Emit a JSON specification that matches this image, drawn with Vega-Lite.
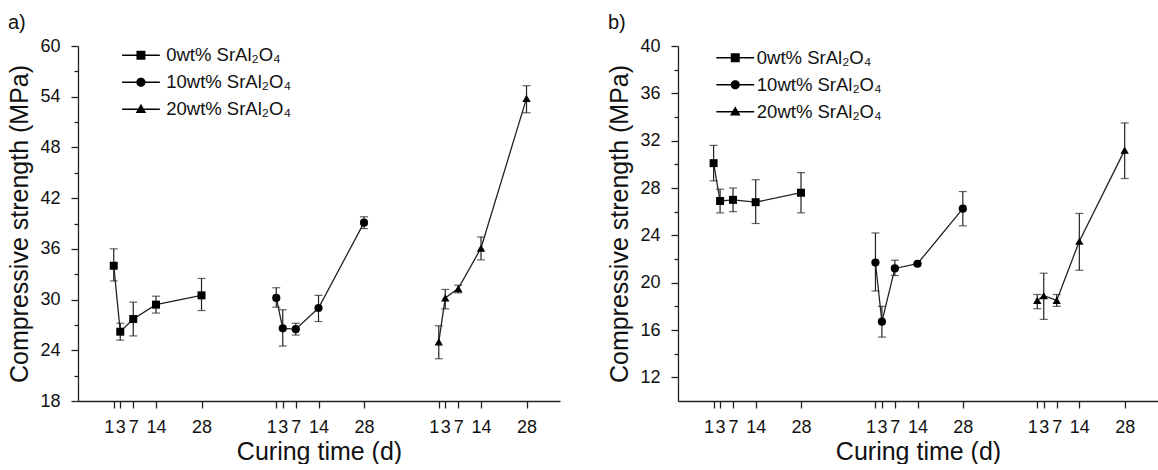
{
  "$schema": "https://vega.github.io/schema/vega-lite/v6.json",
  "padding": {"left": 7, "top": 13, "right": 0, "bottom": 0},
  "background": "white",
  "datasets": {
    "a": [
      {"s": "0wt% SrAl₂O₄", "day": 1, "x": 1, "v": 34.0, "lo": 32.2, "hi": 36.0},
      {"s": "0wt% SrAl₂O₄", "day": 3, "x": 3, "v": 26.2, "lo": 25.2, "hi": 27.2},
      {"s": "0wt% SrAl₂O₄", "day": 7, "x": 7, "v": 27.7, "lo": 25.7, "hi": 29.7},
      {"s": "0wt% SrAl₂O₄", "day": 14, "x": 14, "v": 29.4, "lo": 28.4, "hi": 30.4},
      {"s": "0wt% SrAl₂O₄", "day": 28, "x": 28, "v": 30.5, "lo": 28.7, "hi": 32.5},
      {"s": "10wt% SrAl₂O₄", "day": 1, "x": 51, "v": 30.2, "lo": 29.1, "hi": 31.4},
      {"s": "10wt% SrAl₂O₄", "day": 3, "x": 53, "v": 26.6, "lo": 24.5, "hi": 28.8},
      {"s": "10wt% SrAl₂O₄", "day": 7, "x": 57, "v": 26.5, "lo": 25.8, "hi": 27.2},
      {"s": "10wt% SrAl₂O₄", "day": 14, "x": 64, "v": 29.0, "lo": 27.4, "hi": 30.5},
      {"s": "10wt% SrAl₂O₄", "day": 28, "x": 78, "v": 39.1, "lo": 38.4, "hi": 39.8},
      {"s": "20wt% SrAl₂O₄", "day": 1, "x": 101, "v": 25.0, "lo": 23.0, "hi": 26.9},
      {"s": "20wt% SrAl₂O₄", "day": 3, "x": 103, "v": 30.2, "lo": 28.9, "hi": 31.2},
      {"s": "20wt% SrAl₂O₄", "day": 7, "x": 107, "v": 31.3, "lo": 30.8, "hi": 31.7},
      {"s": "20wt% SrAl₂O₄", "day": 14, "x": 114, "v": 36.1, "lo": 34.7, "hi": 37.4},
      {"s": "20wt% SrAl₂O₄", "day": 28, "x": 128, "v": 53.8, "lo": 52.1, "hi": 55.3}
    ],
    "b": [
      {"s": "0wt% SrAl₂O₄", "day": 1, "x": 1, "v": 30.1, "lo": 28.6, "hi": 31.6},
      {"s": "0wt% SrAl₂O₄", "day": 3, "x": 3, "v": 26.9, "lo": 25.9, "hi": 27.9},
      {"s": "0wt% SrAl₂O₄", "day": 7, "x": 7, "v": 27.0, "lo": 26.0, "hi": 28.0},
      {"s": "0wt% SrAl₂O₄", "day": 14, "x": 14, "v": 26.8, "lo": 25.0, "hi": 28.7},
      {"s": "0wt% SrAl₂O₄", "day": 28, "x": 28, "v": 27.6, "lo": 25.9, "hi": 29.3},
      {"s": "10wt% SrAl₂O₄", "day": 1, "x": 51, "v": 21.7, "lo": 19.3, "hi": 24.2},
      {"s": "10wt% SrAl₂O₄", "day": 3, "x": 53, "v": 16.7, "lo": 15.4, "hi": 18.0},
      {"s": "10wt% SrAl₂O₄", "day": 7, "x": 57, "v": 21.2, "lo": 20.6, "hi": 21.9},
      {"s": "10wt% SrAl₂O₄", "day": 14, "x": 64, "v": 21.6, "lo": 21.6, "hi": 21.6},
      {"s": "10wt% SrAl₂O₄", "day": 28, "x": 78, "v": 26.25, "lo": 24.8, "hi": 27.7},
      {"s": "20wt% SrAl₂O₄", "day": 1, "x": 101, "v": 18.5, "lo": 17.8, "hi": 19.0},
      {"s": "20wt% SrAl₂O₄", "day": 3, "x": 103, "v": 18.9, "lo": 16.9, "hi": 20.8},
      {"s": "20wt% SrAl₂O₄", "day": 7, "x": 107, "v": 18.5, "lo": 18.0, "hi": 19.0},
      {"s": "20wt% SrAl₂O₄", "day": 14, "x": 114, "v": 23.5, "lo": 21.05, "hi": 25.85},
      {"s": "20wt% SrAl₂O₄", "day": 28, "x": 128, "v": 31.2, "lo": 28.8, "hi": 33.5}
    ]
  },
  "spacing": 47,
  "hconcat": [
    {
      "width": 482,
      "height": 355,
      "title": {"text": "a)"},
      "data": {"name": "a"},
      "layer": [
        {
          "mark": {"type": "rule", "color": "#222", "strokeWidth": 1.2},
          "encoding": {
            "x": {"field": "x", "type": "quantitative", "scale": {"domain": [-10, 138.3], "nice": false, "zero": false},
              "axis": {"values": [1,3,7,14,28,51,53,57,64,78,101,103,107,114,128], "tickCount": 40, "labelExpr": "'' + (datum.value > 100 ? datum.value - 100 : datum.value > 50 ? datum.value - 50 : datum.value)", "labelAlign": {"condition": {"test": "datum.value % 50 === 1", "value": "right"}, "value": "center"}, "labelOverlap": false, "labelFlush": false, "tickSize": 7, "labelPadding": 10, "title": "Curing time (d)", "titlePadding": 3}},
            "y": {"field": "lo", "type": "quantitative", "scale": {"domain": [18, 60], "nice": false, "zero": false},
              "axis": {"values": [18,21,24,27,30,33,36,39,42,45,48,51,54,57,60], "tickCount": 40, "labelExpr": "datum.value % 6 === 0 ? datum.label : ''", "tickSize": {"condition": {"test": "datum.value % 6 === 0", "value": 7}, "value": 4}, "labelPadding": 11, "title": "Compressive strength (MPa)", "titlePadding": 7}},
            "y2": {"field": "hi"}
          }
        },
        {
          "mark": {"type": "tick", "orient": "horizontal", "size": 8, "thickness": 1.2, "color": "#222"},
          "encoding": {"x": {"field": "x", "type": "quantitative"}, "y": {"field": "lo", "type": "quantitative"}}
        },
        {
          "mark": {"type": "tick", "orient": "horizontal", "size": 8, "thickness": 1.2, "color": "#222"},
          "encoding": {"x": {"field": "x", "type": "quantitative"}, "y": {"field": "hi", "type": "quantitative"}}
        },
        {
          "mark": {"type": "line", "color": "#222", "strokeWidth": 1.3},
          "encoding": {"x": {"field": "x", "type": "quantitative"}, "y": {"field": "v", "type": "quantitative"}, "detail": {"field": "s", "type": "nominal"}}
        },
        {
          "mark": {"type": "point", "filled": true, "color": "#000", "opacity": 1},
          "encoding": {
            "x": {"field": "x", "type": "quantitative"},
            "y": {"field": "v", "type": "quantitative"},
            "shape": {"field": "s", "type": "nominal", "scale": {"domain": ["0wt% SrAl₂O₄", "10wt% SrAl₂O₄", "20wt% SrAl₂O₄"], "range": ["square", "circle", "triangle-up"]}, "legend": null},
            "size": {"field": "s", "type": "nominal", "scale": {"domain": ["0wt% SrAl₂O₄", "10wt% SrAl₂O₄", "20wt% SrAl₂O₄"], "range": [64, 70, 75]}, "legend": null}
          }
        },
        {
          "mark": {"type": "point", "filled": true, "color": "#000", "opacity": 0},
          "encoding": {
            "x": {"field": "x", "type": "quantitative"},
            "y": {"field": "v", "type": "quantitative"},
            "shape": {"field": "s", "type": "nominal", "scale": {"domain": ["0wt% SrAl₂O₄", "10wt% SrAl₂O₄", "20wt% SrAl₂O₄"], "range": ["M-2.7,-0.09H2.7V0.09H-2.7ZM-0.64,-0.64H0.64V0.64H-0.64Z", "M-2.7,-0.09H2.7V0.09H-2.7ZM0.66,0A0.66,0.66 0 1,1 -0.66,0A0.66,0.66 0 1,1 0.66,0Z", "M-2.7,-0.09H2.7V0.09H-2.7ZM0,-0.8L0.75,0.55L-0.75,0.55Z"]},
              "legend": {"orient": "none", "legendX": 53.7, "legendY": 0, "title": null, "symbolSize": 196, "symbolOpacity": 1, "symbolFillColor": "#000", "symbolStrokeWidth": 0, "labelFontSize": 18.5, "labelOffset": 16, "rowPadding": 8, "padding": 0, "labelColor": "#111"}}
          }
        }
      ],
      "resolve": {"scale": {"shape": "independent", "size": "independent"}}
    },
    {
      "width": 480,
      "height": 355,
      "title": {"text": "b)"},
      "data": {"name": "b"},
      "layer": [
        {
          "mark": {"type": "rule", "color": "#222", "strokeWidth": 1.2},
          "encoding": {
            "x": {"field": "x", "type": "quantitative", "scale": {"domain": [-10, 138.3], "nice": false, "zero": false},
              "axis": {"values": [1,3,7,14,28,51,53,57,64,78,101,103,107,114,128], "tickCount": 40, "labelExpr": "'' + (datum.value > 100 ? datum.value - 100 : datum.value > 50 ? datum.value - 50 : datum.value)", "labelAlign": {"condition": {"test": "datum.value % 50 === 1", "value": "right"}, "value": "center"}, "labelOverlap": false, "labelFlush": false, "tickSize": 7, "labelPadding": 10, "title": "Curing time (d)", "titlePadding": 3}},
            "y": {"field": "lo", "type": "quantitative", "scale": {"domain": [10, 40], "nice": false, "zero": false},
              "axis": {"values": [12,14,16,18,20,22,24,26,28,30,32,34,36,38,40], "tickCount": 40, "labelExpr": "datum.value % 4 === 0 ? datum.label : ''", "tickSize": {"condition": {"test": "datum.value % 4 === 0", "value": 7}, "value": 4}, "labelPadding": 11, "title": "Compressive strength (MPa)", "titlePadding": 7}},
            "y2": {"field": "hi"}
          }
        },
        {
          "mark": {"type": "tick", "orient": "horizontal", "size": 8, "thickness": 1.2, "color": "#222"},
          "encoding": {"x": {"field": "x", "type": "quantitative"}, "y": {"field": "lo", "type": "quantitative"}}
        },
        {
          "mark": {"type": "tick", "orient": "horizontal", "size": 8, "thickness": 1.2, "color": "#222"},
          "encoding": {"x": {"field": "x", "type": "quantitative"}, "y": {"field": "hi", "type": "quantitative"}}
        },
        {
          "mark": {"type": "line", "color": "#222", "strokeWidth": 1.3},
          "encoding": {"x": {"field": "x", "type": "quantitative"}, "y": {"field": "v", "type": "quantitative"}, "detail": {"field": "s", "type": "nominal"}}
        },
        {
          "mark": {"type": "point", "filled": true, "color": "#000", "opacity": 1},
          "encoding": {
            "x": {"field": "x", "type": "quantitative"},
            "y": {"field": "v", "type": "quantitative"},
            "shape": {"field": "s", "type": "nominal", "scale": {"domain": ["0wt% SrAl₂O₄", "10wt% SrAl₂O₄", "20wt% SrAl₂O₄"], "range": ["square", "circle", "triangle-up"]}, "legend": null},
            "size": {"field": "s", "type": "nominal", "scale": {"domain": ["0wt% SrAl₂O₄", "10wt% SrAl₂O₄", "20wt% SrAl₂O₄"], "range": [64, 70, 75]}, "legend": null}
          }
        },
        {
          "mark": {"type": "point", "filled": true, "color": "#000", "opacity": 0},
          "encoding": {
            "x": {"field": "x", "type": "quantitative"},
            "y": {"field": "v", "type": "quantitative"},
            "shape": {"field": "s", "type": "nominal", "scale": {"domain": ["0wt% SrAl₂O₄", "10wt% SrAl₂O₄", "20wt% SrAl₂O₄"], "range": ["M-2.7,-0.09H2.7V0.09H-2.7ZM-0.64,-0.64H0.64V0.64H-0.64Z", "M-2.7,-0.09H2.7V0.09H-2.7ZM0.66,0A0.66,0.66 0 1,1 -0.66,0A0.66,0.66 0 1,1 0.66,0Z", "M-2.7,-0.09H2.7V0.09H-2.7ZM0,-0.8L0.75,0.55L-0.75,0.55Z"]},
              "legend": {"orient": "none", "legendX": 48, "legendY": 2.5, "title": null, "symbolSize": 196, "symbolOpacity": 1, "symbolFillColor": "#000", "symbolStrokeWidth": 0, "labelFontSize": 18.5, "labelOffset": 12.3, "rowPadding": 8, "padding": 0, "labelColor": "#111"}}
          }
        }
      ],
      "resolve": {"scale": {"shape": "independent", "size": "independent"}}
    }
  ],
  "config": {
    "view": {"stroke": null},
    "font": "Liberation Sans",
    "title": {"anchor": "start", "frame": "bounds", "fontSize": 20, "fontWeight": "normal", "font": "Liberation Sans", "color": "#111", "offset": 4},
    "axis": {"grid": false, "domainColor": "#222", "tickColor": "#222", "labelColor": "#111", "titleColor": "#111", "labelFont": "Liberation Sans", "titleFont": "Liberation Sans", "labelFontSize": 18, "titleFontSize": 25, "titleFontWeight": "normal", "domainWidth": 1.3, "tickWidth": 1.3, "labelOverlap": false},
    "legend": {"labelFont": "Liberation Sans"}
  }
}
